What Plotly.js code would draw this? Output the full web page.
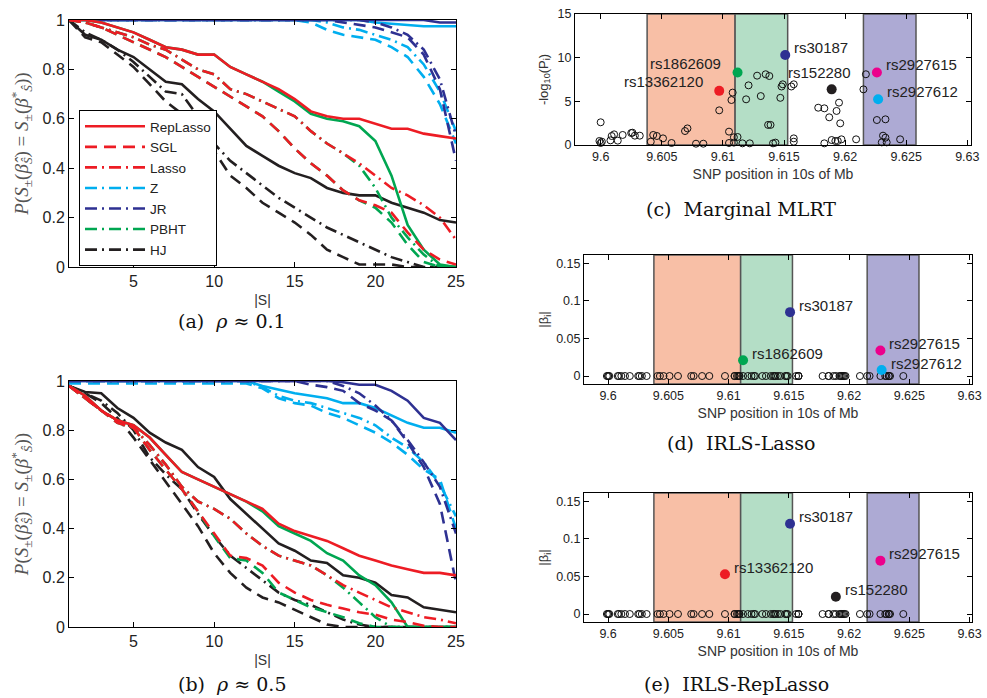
<!DOCTYPE html>
<html><head><meta charset="utf-8">
<script src="https://cdn.plot.ly/plotly-3.0.1.min.js"></script>
<style>html,body{margin:0;padding:0;background:#fff}#chart{width:987px;height:698px}</style>
</head><body><div id="chart"></div>
<script>
// ---------------- DATA ----------------
const setSize = [1,2,3,4,5,6,7,8,9,10,11,12,13,14,15,16,17,18,19,20,21,22,23,24,25];

// panel (a) rho ~ 0.1
const a_red_solid    = [1,1,0.99,0.97,0.95,0.92,0.89,0.88,0.86,0.86,0.81,0.78,0.75,0.72,0.68,0.63,0.61,0.60,0.60,0.58,0.56,0.56,0.54,0.53,0.52];
const a_red_dash     = [1,0.99,0.97,0.94,0.91,0.88,0.85,0.81,0.77,0.73,0.69,0.65,0.61,0.55,0.48,0.42,0.37,0.31,0.27,0.25,0.22,0.14,0.07,0.03,0.01];
const a_red_dashdot  = [1,0.99,0.97,0.95,0.93,0.90,0.88,0.84,0.80,0.78,0.72,0.70,0.67,0.64,0.61,0.55,0.50,0.46,0.42,0.37,0.32,0.29,0.25,0.20,0.11];
const a_green_solid  = [1,1,0.99,0.97,0.95,0.92,0.89,0.88,0.86,0.86,0.81,0.78,0.75,0.71,0.67,0.62,0.60,0.59,0.57,0.51,0.37,0.17,0.07,0.01,0];
const a_green_dash   = [1,0.99,0.97,0.94,0.91,0.88,0.85,0.81,0.77,0.73,0.69,0.65,0.61,0.55,0.48,0.42,0.37,0.31,0.27,0.24,0.18,0.09,0.02,0,0];
const a_green_dashdot= [1,0.99,0.97,0.95,0.93,0.90,0.88,0.84,0.80,0.78,0.72,0.70,0.67,0.64,0.61,0.55,0.50,0.46,0.41,0.32,0.20,0.12,0.05,0,0];
const a_black_solid  = [1,0.94,0.92,0.88,0.85,0.80,0.75,0.74,0.68,0.63,0.56,0.49,0.45,0.41,0.38,0.36,0.32,0.30,0.29,0.29,0.26,0.24,0.22,0.19,0.18];
const a_black_dash   = [1,0.93,0.91,0.86,0.81,0.74,0.67,0.62,0.55,0.47,0.37,0.32,0.26,0.22,0.18,0.13,0.07,0.04,0.01,0.01,0.01,0,0,0,0];
const a_black_dashdot= [1,0.95,0.92,0.88,0.83,0.77,0.71,0.70,0.61,0.50,0.43,0.38,0.33,0.28,0.24,0.20,0.16,0.13,0.10,0.07,0.04,0.02,0,0,0];
const a_cyan_solid   = [1,1,1,1,1,1,1,1,1,1,1,1,1,1,1,1,1,1,1,0.99,0.985,0.98,0.975,0.975,0.975];
const a_cyan_dash    = [1,1,1,1,1,1,1,1,1,1,1,1,1,1,1,0.99,0.96,0.94,0.93,0.92,0.89,0.85,0.77,0.66,0.50];
const a_cyan_dashdot = [1,1,1,1,1,1,1,1,1,1,1,1,1,1,1,1,0.99,0.97,0.96,0.94,0.92,0.89,0.82,0.71,0.55];
const a_navy_solid   = [1,1,1,1,1,1,1,1,1,1,1,1,1,1,1,1,1,1,1,1,1,1,1,0.99,0.99];
const a_navy_dash    = [1,1,1,1,1,1,1,1,1,1,1,1,1,1,1,1,1,0.99,0.98,0.97,0.95,0.93,0.86,0.72,0.43];
const a_navy_dashdot = [1,1,1,1,1,1,1,1,1,1,1,1,1,1,1,1,1,1,1,0.99,0.97,0.94,0.88,0.76,0.53];

// panel (b) rho ~ 0.5
const b_red_solid    = [0.98,0.94,0.88,0.84,0.82,0.77,0.70,0.63,0.60,0.57,0.54,0.51,0.48,0.42,0.39,0.37,0.35,0.32,0.29,0.27,0.25,0.235,0.22,0.22,0.21];
const b_red_dash     = [0.98,0.93,0.88,0.83,0.81,0.72,0.64,0.56,0.47,0.38,0.29,0.28,0.25,0.18,0.14,0.11,0.09,0.075,0.06,0.05,0.03,0.02,0.005,0,0];
const b_red_dashdot  = [0.98,0.93,0.88,0.84,0.81,0.74,0.66,0.57,0.51,0.48,0.44,0.38,0.33,0.29,0.27,0.25,0.21,0.17,0.14,0.11,0.08,0.06,0.04,0.03,0.015];
const b_green_solid  = [0.98,0.94,0.88,0.84,0.82,0.77,0.70,0.63,0.60,0.57,0.54,0.51,0.47,0.41,0.38,0.35,0.30,0.27,0.21,0.17,0.10,0,0,0,0];
const b_green_dash   = [0.98,0.93,0.88,0.83,0.81,0.72,0.64,0.56,0.47,0.37,0.28,0.27,0.22,0.14,0.11,0.08,0.06,0.04,0.015,0,0,0,0,0,0];
const b_green_dashdot= [0.98,0.93,0.88,0.84,0.81,0.74,0.66,0.57,0.51,0.48,0.44,0.38,0.33,0.29,0.27,0.25,0.21,0.16,0.10,0.04,0,0,0,0,0];
const b_black_solid  = [0.98,0.955,0.95,0.89,0.85,0.79,0.75,0.72,0.65,0.61,0.52,0.46,0.40,0.34,0.31,0.27,0.26,0.21,0.20,0.18,0.13,0.12,0.08,0.07,0.06];
const b_black_dash   = [0.98,0.95,0.91,0.85,0.77,0.68,0.59,0.50,0.41,0.30,0.22,0.16,0.12,0.10,0.07,0.04,0.01,0,0,0,0,0,0,0,0];
const b_black_dashdot= [0.98,0.95,0.92,0.87,0.80,0.69,0.62,0.56,0.46,0.37,0.29,0.24,0.19,0.14,0.11,0.09,0.06,0.03,0.01,0,0,0,0,0,0];
const b_cyan_solid   = [1,1,1,1,1,1,1,1,1,1,1,1,0.98,0.965,0.95,0.94,0.93,0.91,0.91,0.89,0.86,0.83,0.81,0.81,0.79];
const b_cyan_dash    = [0.99,0.99,0.99,0.99,0.99,0.99,0.99,0.99,0.99,0.99,0.99,0.99,0.97,0.93,0.91,0.90,0.87,0.85,0.82,0.79,0.75,0.70,0.64,0.60,0.40];
const b_cyan_dashdot = [1,1,1,1,1,1,1,1,1,1,1,1,0.975,0.94,0.92,0.91,0.89,0.87,0.85,0.82,0.77,0.73,0.67,0.58,0.45];
const b_navy_solid   = [1,1,1,1,1,1,1,1,1,1,1,1,1,1,1,1,1,0.995,0.985,0.985,0.96,0.92,0.85,0.83,0.76];
const b_navy_dash    = [1,1,1,1,1,1,1,1,1,1,1,1,1,1,1,0.985,0.975,0.96,0.91,0.88,0.84,0.75,0.65,0.50,0.18];
const b_navy_dashdot = [1,1,1,1,1,1,1,1,1,1,1,1,1,1,1,1,1,0.98,0.95,0.90,0.84,0.76,0.67,0.57,0.38];

// right panels: SNP positions (10s of Mb) and marginal -log10(P)
const snpPos  = [9.6000,9.5999,9.6000,9.6001,9.6008,9.6009,9.6011,9.6014,9.6018,9.6025,9.6026,9.6028,9.6032,
                 9.6041,9.6043,9.6046,9.6051,9.6058,9.6069,9.6071,9.6078,9.6084,9.6097,9.6105,9.6105,9.6107,9.6108,9.6109,9.6109,
                 9.6112,9.6116,9.6121,9.6119,9.6122,9.6128,9.6131,9.6135,9.6138,9.6137,9.6139,9.6141,9.6143,9.6148,9.6149,9.6147,
                 9.6156,9.6158,9.6158,9.6158,9.6178,9.6183,9.6187,9.6193,9.6195,9.6196,9.6183,9.6189,9.6192,9.6194,9.6197,9.6209,
                 9.6215,9.6217,9.6226,9.6233,9.6231,9.6233,9.6230,9.6234,9.6245];
const snpMLRT = [2.6,0.46,0.23,0.38,0.53,1.03,1.22,0.50,1.15,1.37,1.41,1.07,1.07,
                 0.38,1.15,1.03,0.76,0.23,1.60,1.90,0.15,0.15,3.97,1.53,0.23,5.15,6.00,0.88,0.27,
                 0.92,0.19,6.83,5.23,0.19,7.94,5.60,8.10,7.90,2.30,2.30,0.19,0.27,6.70,6.95,5.40,
                 6.70,6.95,0.76,0.38,4.27,4.20,3.17,3.90,4.85,2.48,0.19,0.57,0.46,0.46,0.65,0.65,
                 6.37,8.10,2.86,2.94,1.07,0.84,0.30,0.30,0.65];
const snpBetaZero = [0,0,0,0,0,0,0,0,0,0,0,0,0,0,0,0,0,0,0,0,0,0,0,0,0,0,0,0,0,0,0,0,0,0,0,
                     0,0,0,0,0,0,0,0,0,0,0,0,0,0,0,0,0,0,0,0,0,0,0,0,0,0,0,0,0,0,0,0,0,0,0];

const hlNames = ['rs13362120','rs1862609','rs30187','rs152280','rs2927615','rs2927612'];
const hlPos   = [9.6097, 9.6112, 9.6151, 9.6189, 9.6226, 9.6227];
const hlMLRT  = [6.2, 8.3, 10.3, 6.37, 8.3, 5.23];
const hlLasso = [0, 0.021, 0.085, 0, 0.034, 0.008];
const hlRep   = [0.053, 0, 0.12, 0.023, 0.071, 0];

const bandStart = [9.6038, 9.6110, 9.6215];
const bandEnd   = [9.6110, 9.6153, 9.6258];

const xTickVals = [9.6, 9.605, 9.61, 9.615, 9.62, 9.625, 9.63];
const xTickText = ['9.6','9.605','9.61','9.615','9.62','9.625','9.63'];

// ---------------- STYLE ----------------
const SANS = 'Liberation Sans, Arial, sans-serif';
const SERIF = 'DejaVu Serif, Liberation Serif, serif';
const COL = {red:'#ED1C24', green:'#00A651', navy:'#2E3192', cyan:'#00AEEF', black:'#231F20'};
const DASH = {solid:'solid', dash:'12px,7px', dashdot:'12px,5px,2px,5px'};
const hlColors = ['#ED1C24','#00A651','#2E3192','#231F20','#EC008C','#00AEEF'];
const bandColors = ['#F8BFA6','#B4DEC6','#ADAAD4'];

const series = {
  a: {red:[a_red_solid,a_red_dash,a_red_dashdot], green:[a_green_solid,a_green_dash,a_green_dashdot],
      black:[a_black_solid,a_black_dash,a_black_dashdot], cyan:[a_cyan_solid,a_cyan_dash,a_cyan_dashdot],
      navy:[a_navy_solid,a_navy_dash,a_navy_dashdot]},
  b: {red:[b_red_solid,b_red_dash,b_red_dashdot], green:[b_green_solid,b_green_dash,b_green_dashdot],
      black:[b_black_solid,b_black_dash,b_black_dashdot], cyan:[b_cyan_solid,b_cyan_dash,b_cyan_dashdot],
      navy:[b_navy_solid,b_navy_dash,b_navy_dashdot]}
};
const legendNames = {
  'red-solid':['RepLasso',1], 'red-dash':['SGL',2], 'red-dashdot':['Lasso',3],
  'cyan-dashdot':['Z',4], 'navy-dashdot':['JR',5], 'green-dashdot':['PBHT',6], 'black-dashdot':['HJ',7]
};
const drawOrder = ['cyan','navy','black','green','red'];
const styles = ['solid','dash','dashdot'];

const traces = [];
[['a','x','y'],['b','x2','y2']].forEach(([p,xa,ya]) => {
  drawOrder.forEach(c => {
    styles.forEach((s,i) => {
      const key = c+'-'+s;
      const leg = (p==='a') && legendNames[key];
      traces.push({
        type:'scatter', mode:'lines', x:setSize, y:series[p][c][i], xaxis:xa, yaxis:ya,
        line:{color:COL[c], width:2.6, dash:DASH[s]},
        name: leg ? leg[0] : key, showlegend: !!leg, legendrank: leg ? leg[1] : 1000,
        cliponaxis:false, hoverinfo:'skip'
      });
    });
  });
});

// right panels
const openMarker = {symbol:'circle-open', size:7, color:'#111', line:{width:1, color:'#111'}};
traces.push({type:'scatter', mode:'markers', x:snpPos, y:snpMLRT, xaxis:'x3', yaxis:'y3', marker:openMarker, showlegend:false, cliponaxis:false, hoverinfo:'skip'});
traces.push({type:'scatter', mode:'markers', x:snpPos, y:snpBetaZero, xaxis:'x4', yaxis:'y4', marker:openMarker, showlegend:false, cliponaxis:false, hoverinfo:'skip'});
traces.push({type:'scatter', mode:'markers', x:snpPos, y:snpBetaZero, xaxis:'x5', yaxis:'y5', marker:openMarker, showlegend:false, cliponaxis:false, hoverinfo:'skip'});

const annotations = [];
const labelStyle = {
  x3: {rs13362120:['right',-14,9], rs1862609:['right',-15,9], rs30187:['left',7,8], rs152280:['center',-12,17], rs2927615:['left',7,8], rs2927612:['left',7,8]},
  x4: {}, x5: {}
};
[['x3','y3',hlMLRT],['x4','y4',hlLasso],['x5','y5',hlRep]].forEach(([xa,ya,vals]) => {
  const xs=[], ys=[], cs=[];
  vals.forEach((v,i) => {
    if (v === 0) return;
    xs.push(hlPos[i]); ys.push(v); cs.push(hlColors[i]);
    const st = labelStyle[xa][hlNames[i]] || ['left',7,7];
    annotations.push({xref:xa, yref:ya, x:hlPos[i], y:v, text:hlNames[i], showarrow:false,
      xanchor:st[0], yanchor:'middle', xshift:st[1], yshift:st[2],
      font:{family:SANS, size:15, color:'#222'}});
  });
  traces.push({type:'scatter', mode:'markers', x:xs, y:ys, xaxis:xa, yaxis:ya,
    marker:{size:10, color:cs, line:{width:0}}, showlegend:false, cliponaxis:false, hoverinfo:'skip'});
});

const shapes = [];
['x3','x4','x5'].forEach((xa,k) => {
  const ya = ['y3','y4','y5'][k];
  bandStart.forEach((b,i) => {
    shapes.push({type:'rect', xref:xa, yref:ya+' domain', x0:b, x1:bandEnd[i], y0:0, y1:1,
      fillcolor:bandColors[i], line:{color:'#555', width:1.5}, layer:'below'});
  });
});

// captions
const cap = (x,y,t) => ({xref:'paper', yref:'paper', x:x, y:y, text:t, showarrow:false,
  xanchor:'center', yanchor:'middle', font:{family:SERIF, size:19, color:'#111'}});
annotations.push(cap(232/987, 1-321/698, '(a)  <i>ρ</i> ≈ 0.1'));
annotations.push(cap(232/987, 1-684/698, '(b)  <i>ρ</i> ≈ 0.5'));
annotations.push(cap(741/987, 1-209/698, '(c)  Marginal MLRT'));
annotations.push(cap(741.5/987, 1-443/698, '(d)  IRLS-Lasso'));
annotations.push(cap(736.5/987, 1-684/698, '(e)  IRLS-RepLasso'));

function ax(extra){
  return Object.assign({showline:true, linecolor:'#000', linewidth:1, mirror:'ticks',
    ticks:'inside', ticklen:5, tickwidth:1, tickcolor:'#000', showgrid:false, zeroline:false,
    fixedrange:true, automargin:false}, extra);
}
const leftTick = {family:SANS, size:16, color:'#222'};
const rightTick = {family:SANS, size:12.5, color:'#222'};
const yTitleLeft = '<i>P</i>(<i>S</i><sub>±</sub>(<i>β̂</i><sub><i>Ŝ</i></sub>) = <i>S</i><sub>±</sub>(<i>β</i><sup>*</sup><sub><i>Ŝ</i></sub>))';
const yTitleFont = {family:'Liberation Serif, serif', size:19, color:'#555'};

const layout = {
  width:987, height:698, margin:{l:0,r:0,t:0,b:0}, paper_bgcolor:'#fff', plot_bgcolor:'#fff',
  showlegend:true,
  legend:{x:79/987, y:1-110/698, xanchor:'left', yanchor:'top', bgcolor:'#fff', bordercolor:'#000', borderwidth:1,
    font:{family:SANS, size:13.5, color:'#222'}, tracegroupgap:0, itemwidth:60, entrywidth:150, entrywidthmode:'pixels', traceorder:'normal'},
  xaxis: ax({domain:[69/987,456/987], range:[1,25], tickvals:[5,10,15,20,25], anchor:'y', tickfont:leftTick,
    title:{text:'|S|', font:{family:SANS, size:14, color:'#333'}, standoff:5}}),
  yaxis: ax({domain:[1-267/698,1-20/698], range:[0,1], tickvals:[0,0.2,0.4,0.6,0.8,1], ticktext:['0','0.2','0.4','0.6','0.8','1'],
    anchor:'x', tickfont:leftTick, title:{text:yTitleLeft, font:yTitleFont, standoff:8}}),
  xaxis2: ax({domain:[69/987,456/987], range:[1,25], tickvals:[5,10,15,20,25], anchor:'y2', tickfont:leftTick,
    title:{text:'|S|', font:{family:SANS, size:14, color:'#333'}, standoff:5}}),
  yaxis2: ax({domain:[1-627/698,1-381/698], range:[0,1], tickvals:[0,0.2,0.4,0.6,0.8,1], ticktext:['0','0.2','0.4','0.6','0.8','1'],
    anchor:'x2', tickfont:leftTick, title:{text:yTitleLeft, font:yTitleFont, standoff:8}}),
  xaxis3: ax({domain:[575/987,971/987], range:[9.5979,9.6303], tickvals:xTickVals, ticktext:xTickText, anchor:'y3', tickfont:rightTick,
    title:{text:'SNP position in 10s of Mb', font:{family:SANS, size:14, color:'#333'}, standoff:6}}),
  yaxis3: ax({domain:[1-145/698,1-14/698], range:[0,15], tickvals:[0,5,10,15], anchor:'x3', tickfont:rightTick,
    title:{text:'-log<sub>10</sub>(P<sub>i</sub>)', font:{family:SANS, size:13, color:'#333'}, standoff:6}}),
  xaxis4: ax({domain:[584/987,972/987], range:[9.598,9.6302], tickvals:xTickVals, ticktext:xTickText, anchor:'y4', tickfont:rightTick,
    title:{text:'SNP position in 10s of Mb', font:{family:SANS, size:14, color:'#333'}, standoff:6}}),
  yaxis4: ax({domain:[1-384/698,1-255/698], range:[-0.0106,0.161], tickvals:[0,0.05,0.1,0.15], ticktext:['0','0.05','0.1','0.15'], anchor:'x4', tickfont:rightTick,
    title:{text:'|β<sub>i</sub>|', font:{family:SANS, size:13, color:'#333'}, standoff:4}}),
  xaxis5: ax({domain:[584/987,972/987], range:[9.598,9.6302], tickvals:xTickVals, ticktext:xTickText, anchor:'y5', tickfont:rightTick,
    title:{text:'SNP position in 10s of Mb', font:{family:SANS, size:14, color:'#333'}, standoff:6}}),
  yaxis5: ax({domain:[1-622/698,1-493/698], range:[-0.0106,0.161], tickvals:[0,0.05,0.1,0.15], ticktext:['0','0.05','0.1','0.15'], anchor:'x5', tickfont:rightTick,
    title:{text:'|β<sub>i</sub>|', font:{family:SANS, size:13, color:'#333'}, standoff:4}}),
  shapes: shapes,
  annotations: annotations
};

Plotly.newPlot('chart', traces, layout, {displayModeBar:false, staticPlot:true});
</script>
</body></html>
